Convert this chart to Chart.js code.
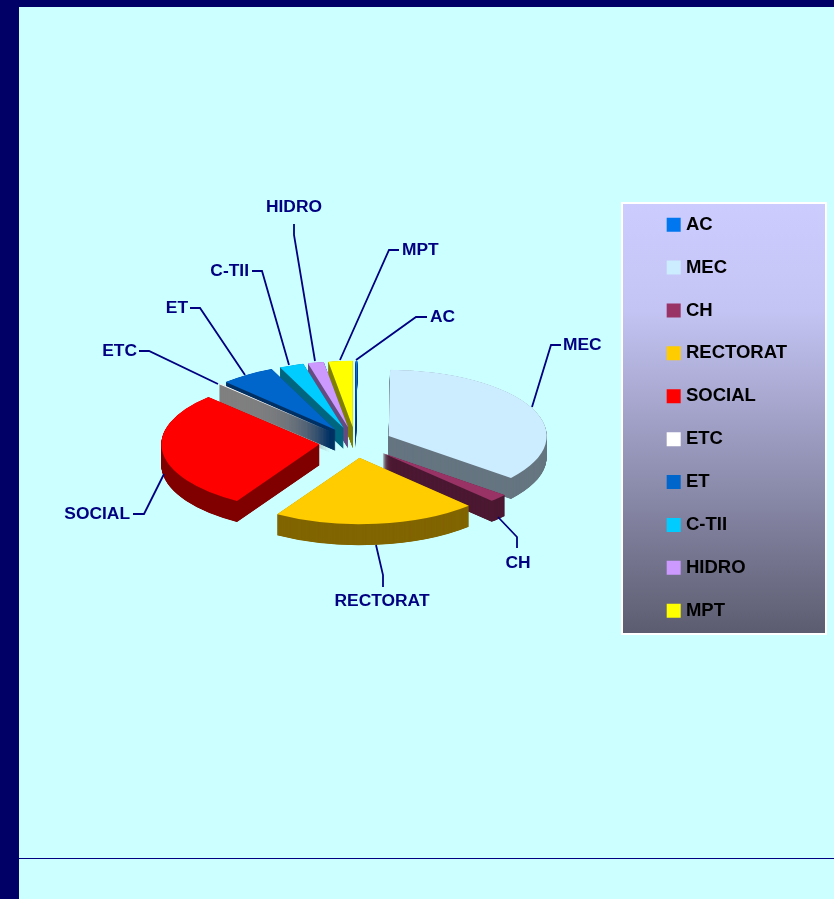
<!DOCTYPE html>
<html>
<head>
<meta charset="utf-8">
<style>
html,body{margin:0;padding:0;width:834px;height:899px;overflow:hidden;background:#CCFFFF}
#band-left{position:absolute;left:0;top:0;width:19px;height:899px;background:#000066}
#band-top{position:absolute;left:0;top:0;width:834px;height:7px;background:#000066}
#rule{position:absolute;left:19px;top:858px;width:815px;height:1px;background:#000080}
canvas{position:absolute;left:0;top:0}
</style>
<script src="https://cdn.jsdelivr.net/npm/chart.js@4/dist/chart.umd.js"></script>
</head>
<body>
<div id="band-left"></div><div id="band-top"></div><div id="rule"></div>
<canvas id="c" width="834" height="899"></canvas>
<script>
const categories = ['AC','MEC','CH','RECTORAT','SOCIAL','ETC','ET','C-TII','HIDRO','MPT'];
const shares = [0.14, 35.8, 1.94, 20.9, 28.9, 0.19, 5.6, 2.5, 1.64, 2.47];
const topColors = ['#0077EE','#CCECFF','#993366','#FFCC00','#FF0000','#FFFFFF','#0066CC','#00CCFF','#CC99FF','#FFFF00'];
const wallColors = ['#003B77','#667680','#4D1A33','#806600','#800000','#808080','#003366','#006680','#664D80','#808000'];

const TILT = 0.42, DEPTH = 21, EXPLODE = 36.5, WALL_STEP = 0.25;

// Leader-line routes and label placement (annotation layout only)
const callouts = {
  'MEC':      {line:[[532,407],[551,345],[561,345]], text:[563,345,'left']},
  'CH':       {line:[[498,517],[517,537],[517,548]], text:[518,563,'center']},
  'RECTORAT': {line:[[376,545],[383,575],[383,587]], text:[382,601,'center']},
  'SOCIAL':   {line:[[164,474],[144,514],[133,514]], text:[130,514,'right']},
  'ETC':      {line:[[218,384],[149,351],[139,351]], text:[137,351,'right']},
  'ET':       {line:[[245,375],[200,308],[190,308]], text:[188,308,'right']},
  'C-TII':    {line:[[289,365],[262,271],[252,271]], text:[249,271,'right']},
  'HIDRO':    {line:[[315,361],[294,235],[294,224]], text:[294,207,'center']},
  'MPT':      {line:[[340,360],[389,250],[399,250]], text:[402,250,'left']},
  'AC':       {line:[[356,360],[416,317],[427,317]], text:[430,317,'left']}
};

const panel = {
  id:'panel',
  beforeDraw(chart){
    const ctx = chart.ctx, x=622, y=203, w=204, h=431;
    const g = ctx.createLinearGradient(0,y,0,y+h);
    g.addColorStop(0,'#CCCCFF'); g.addColorStop(0.25,'#C4C4F4');
    g.addColorStop(1,'#5C5C70');
    ctx.save();
    ctx.fillStyle = g; ctx.fillRect(x,y,w,h);
    ctx.strokeStyle = '#FFFFFF'; ctx.lineWidth = 2; ctx.strokeRect(x,y,w,h);
    ctx.restore();
  }
};

const tiltedPie = {
  id:'tiltedPie',
  beforeDatasetsDraw(chart){
    const ctx = chart.ctx, arcs = chart.getDatasetMeta(0).data;
    const order = arcs.map((a,i)=>i).sort((i,j)=>{
      const mi=(arcs[i].startAngle+arcs[i].endAngle)/2, mj=(arcs[j].startAngle+arcs[j].endAngle)/2;
      return Math.sin(mi)-Math.sin(mj);
    });
    const paint = (arc, depth, color) => {
      const mid = (arc.startAngle+arc.endAngle)/2;
      ctx.save();
      ctx.translate(arc.x, arc.y+depth);
      ctx.scale(1,TILT);
      ctx.translate(EXPLODE*Math.cos(mid)-arc.x, EXPLODE*Math.sin(mid)-arc.y);
      const o = arc.options;
      arc.options = Object.assign({}, o, {backgroundColor:color, borderColor:color, borderWidth:0});
      arc.draw(ctx);
      arc.options = o;
      ctx.restore();
    };
    order.forEach(i=>{
      for(let d=DEPTH;d>0;d-=WALL_STEP) paint(arcs[i], d, wallColors[i]);
      paint(arcs[i], 0, topColors[i]);
    });
    // leader lines and labels
    ctx.save();
    ctx.strokeStyle='#000080'; ctx.lineWidth=1.8; ctx.lineJoin='miter';
    ctx.fillStyle='#000080'; ctx.font='bold 17.4px "Liberation Sans", Arial, sans-serif';
    ctx.textBaseline='middle';
    categories.forEach(name=>{
      const c = callouts[name];
      ctx.beginPath();
      c.line.forEach((p,k)=> k?ctx.lineTo(p[0],p[1]):ctx.moveTo(p[0],p[1]));
      ctx.stroke();
      ctx.textAlign=c.text[2];
      ctx.fillText(name,c.text[0],c.text[1]);
    });
    ctx.restore();
    return false;
  }
};

new Chart(document.getElementById('c'),{
  type:'pie',
  data:{labels:categories,datasets:[{data:shares,backgroundColor:topColors,borderWidth:0,radius:158}]},
  plugins:[panel,tiltedPie],
  options:{
    responsive:false,animation:false,devicePixelRatio:1,
    layout:{padding:{left:65,right:37,top:191,bottom:205}},
    plugins:{
      tooltip:{enabled:false},
      legend:{
        position:'right',align:'start',
        labels:{
          usePointStyle:true,pointStyle:'rect',boxWidth:6,boxHeight:14,padding:24.4,
          color:'#000000',font:{family:'"Liberation Sans", Arial, sans-serif',size:18.5,weight:'bold'}
        }
      }
    }
  }
});
</script>
</body>
</html>
